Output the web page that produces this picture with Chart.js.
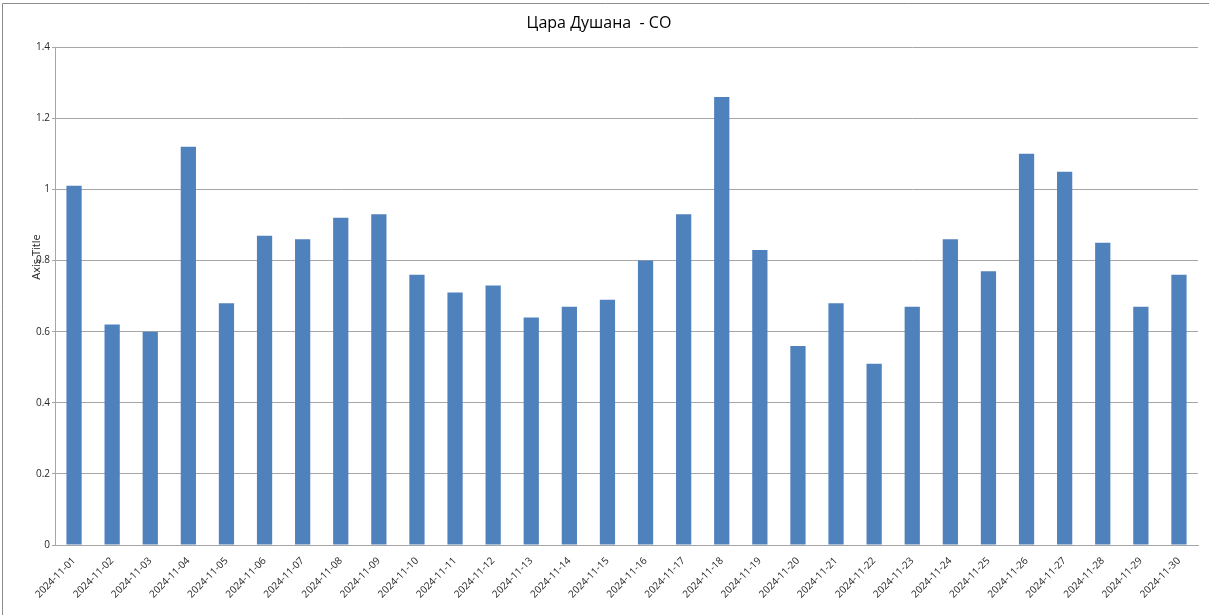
<!DOCTYPE html>
<html>
<head>
<meta charset="utf-8">
<script src="https://cdn.jsdelivr.net/npm/chart.js@4.4.1/dist/chart.umd.min.js"></script>
<style>
  html, body { margin: 0; padding: 0; background: #fff; }
  #wrap { width: 1209px; height: 615px; position: relative; }
</style>
</head>
<body>
<div id="wrap"><canvas id="myChart" width="1209" height="615"></canvas></div>
<script>
// Dados do gráfico
const chartTitle = 'Цара Душана  - СО';
const axisTitle = 'Axis Title';
const dates = [
    '2024-11-01', '2024-11-02', '2024-11-03', '2024-11-04', '2024-11-05',
    '2024-11-06', '2024-11-07', '2024-11-08', '2024-11-09', '2024-11-10',
    '2024-11-11', '2024-11-12', '2024-11-13', '2024-11-14', '2024-11-15',
    '2024-11-16', '2024-11-17', '2024-11-18', '2024-11-19', '2024-11-20',
    '2024-11-21', '2024-11-22', '2024-11-23', '2024-11-24', '2024-11-25',
    '2024-11-26', '2024-11-27', '2024-11-28', '2024-11-29', '2024-11-30'
];
const values = [
    1.01, 0.62, 0.60, 1.12, 0.68, 0.87, 0.86, 0.92, 0.93, 0.76,
    0.71, 0.73, 0.64, 0.67, 0.69, 0.80, 0.93, 1.26, 0.83, 0.56,
    0.68, 0.51, 0.67, 0.86, 0.77, 1.10, 1.05, 0.85, 0.67, 0.76
];
const yTicks = [0, 0.2, 0.4, 0.6, 0.8, 1, 1.2, 1.4];

const barColor = '#4f81bd';
const gridColor = '#a6a6a6';
const textColor = '#262626';

// moldura (só topo e esquerda aparecem no recorte) + título do eixo
const extras = {
    id: 'extras',
    afterDraw(chart) {
        const c = chart.ctx;
        const a = chart.chartArea;
        c.save();
        c.strokeStyle = '#8c8c8c';
        c.lineWidth = 1;
        c.beginPath();
        c.moveTo(2.5, 615);
        c.lineTo(2.5, 3.5);
        c.lineTo(1209, 3.5);
        c.stroke();

        c.translate(a.left - 18, 257);
        c.rotate(-Math.PI / 2);
        c.fillStyle = textColor;
        c.font = '11px "Open Sans"';
        c.textAlign = 'center';
        c.textBaseline = 'middle';
        c.fillText(axisTitle, 0, 0);
        c.restore();
    }
};

const ctx = document.getElementById('myChart').getContext('2d');
const myChart = new Chart(ctx, {
    type: 'bar',
    data: {
        labels: dates,
        datasets: [{
            label: chartTitle,
            data: values,
            backgroundColor: barColor,
            borderWidth: 0,
            categoryPercentage: 1,
            barPercentage: 0.4
        }]
    },
    options: {
        responsive: false,
        animation: false,
        layout: { padding: { left: 0, right: 11, top: 0, bottom: 0 } },
        plugins: {
            legend: { display: false },
            tooltip: { enabled: false },
            title: {
                display: true,
                text: chartTitle,
                color: '#000',
                font: { family: '"Open Sans"', size: 16, weight: 'normal' },
                padding: { top: 14, bottom: 14 }
            }
        },
        scales: {
            x: {
                grid: { display: false },
                border: { color: gridColor },
                ticks: {
                    color: textColor,
                    font: { family: '"Open Sans"', size: 10 },
                    minRotation: 45,
                    maxRotation: 45,
                    autoSkip: false,
                    padding: 2
                },
                afterFit(scale) { scale.height = 70; }
            },
            y: {
                min: 0,
                max: 1.4,
                afterBuildTicks(scale) { scale.ticks = yTicks.map(v => ({ value: v })); },
                grid: { color: gridColor, drawTicks: true, tickLength: 3 },
                border: { color: gridColor },
                ticks: {
                    color: textColor,
                    font: { family: '"Open Sans"', size: 10 },
                    padding: 2,
                    callback: v => String(Math.round(v * 10) / 10)
                },
                afterFit(scale) { scale.width = 55; }
            }
        }
    },
    plugins: [extras]
});
</script>
</body>
</html>
